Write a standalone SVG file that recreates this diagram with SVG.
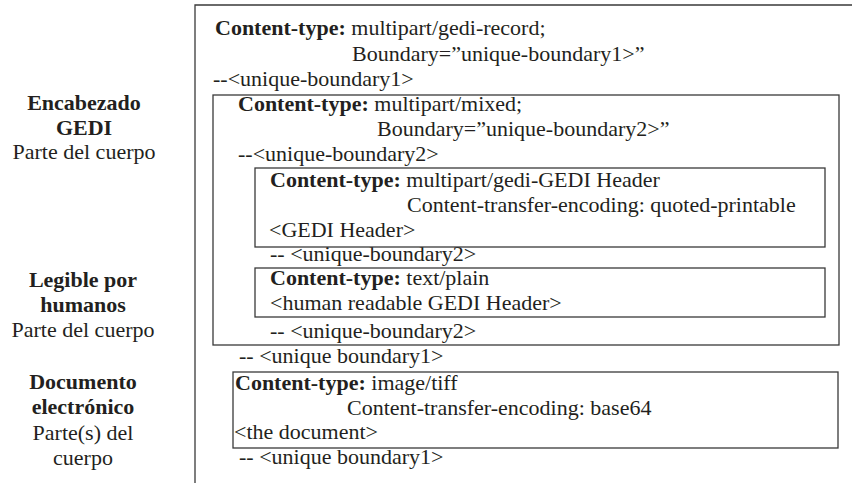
<svg xmlns="http://www.w3.org/2000/svg" width="852" height="483" viewBox="0 0 852 483">
<style>
text{font-family:"Liberation Serif","Times New Roman",serif;font-size:22px;fill:#231f20}
.b{font-weight:bold}
.lbl{text-anchor:middle}
.box{fill:none;stroke:#3a3a3a;stroke-width:1.3}
</style>
<rect width="852" height="483" fill="#fff"/>
<g id="labels">
<g id="label-gedi">
<text class="lbl b" x="84" y="110">Encabezado</text>
<text class="lbl b" x="84" y="134.5">GEDI</text>
<text class="lbl" x="84" y="159">Parte del cuerpo</text>
</g>
<g id="label-human">
<text class="lbl b" x="83" y="287">Legible por</text>
<text class="lbl b" x="83" y="312">humanos</text>
<text class="lbl" x="83" y="337">Parte del cuerpo</text>
</g>
<g id="label-doc">
<text class="lbl b" x="83" y="389">Documento</text>
<text class="lbl b" x="83" y="414">electrónico</text>
<text class="lbl" x="83" y="439.5">Parte(s) del</text>
<text class="lbl" x="83" y="464.5">cuerpo</text>
</g>
</g>
<g id="outer">
<path class="box" d="M195,483 V5 H852"/>
<text x="215" y="35"><tspan class="b">Content-type:</tspan> multipart/gedi-record;</text>
<text x="352" y="61">Boundary=”unique-boundary1&gt;”</text>
<text x="213" y="86">--&lt;unique-boundary1&gt;</text>
</g>
<g id="mixed">
<rect class="box" x="213" y="95" width="626" height="250"/>
<text x="238" y="111"><tspan class="b">Content-type:</tspan> multipart/mixed;</text>
<text x="377" y="136">Boundary=”unique-boundary2&gt;”</text>
<text x="238" y="161">--&lt;unique-boundary2&gt;</text>
<text x="270" y="261">-- &lt;unique-boundary2&gt;</text>
<text x="270" y="338">-- &lt;unique-boundary2&gt;</text>
</g>
<g id="gedi-header">
<rect class="box" x="255" y="168" width="570" height="79"/>
<text x="270" y="187"><tspan class="b">Content-type:</tspan> multipart/gedi-GEDI Header</text>
<text x="407" y="212">Content-transfer-encoding: quoted-printable</text>
<text x="269" y="236.5">&lt;GEDI Header&gt;</text>
</g>
<g id="text-plain">
<rect class="box" x="255" y="268" width="570" height="49"/>
<text x="270" y="285"><tspan class="b">Content-type:</tspan> text/plain</text>
<text x="270" y="309.5">&lt;human readable GEDI Header&gt;</text>
</g>
<g id="boundary1">
<text x="239" y="363">-- &lt;unique boundary1&gt;</text>
<text x="239" y="464">-- &lt;unique boundary1&gt;</text>
</g>
<g id="document">
<rect class="box" x="233" y="372" width="605" height="76"/>
<text x="235" y="390"><tspan class="b">Content-type:</tspan> image/tiff</text>
<text x="347" y="414.5">Content-transfer-encoding: base64</text>
<text x="234" y="439">&lt;the document&gt;</text>
</g>
<g id="connectors"/>
</svg>
